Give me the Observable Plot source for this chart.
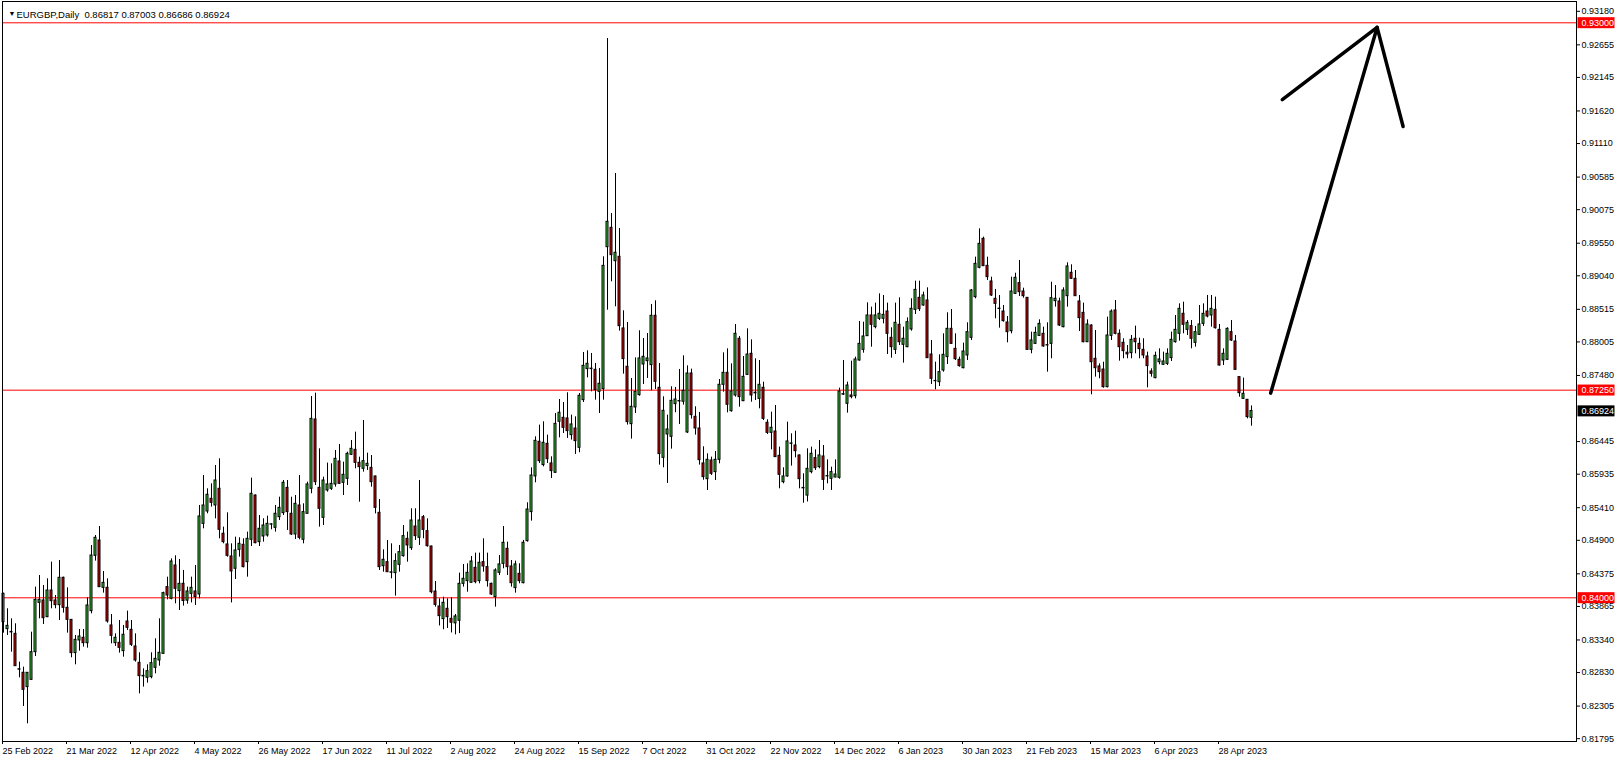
<!DOCTYPE html>
<html><head><meta charset="utf-8">
<script src="https://cdn.jsdelivr.net/npm/d3@7"></script>
<script src="https://cdn.jsdelivr.net/npm/@observablehq/plot@0.6"></script>
<style>
html,body{margin:0;padding:0;background:#fff;}
#chart{position:relative;width:1620px;height:762px;overflow:hidden;}
</style></head><body><div id="chart"></div>
<script>
// EURGBP Daily, one bar per trading day (bar index 0 = 25 Feb 2022)
const openP=[
0.83619,0.83509,0.83466,0.83436,0.82882,0.82826,0.82602,0.82716,0.83149,0.83921,
0.83958,0.83697,0.84114,0.83958,0.83885,0.84313,0.83843,0.83655,0.83134,0.83332,
0.83374,0.83290,0.83791,0.84657,0.84897,0.84156,0.84156,0.83567,0.83290,0.83295,
0.83165,0.83629,0.83499,0.83238,0.82982,0.82778,0.82748,0.82758,0.82904,0.83019,
0.83123,0.84167,0.83984,0.84506,0.84104,0.84219,0.83955,0.84062,0.84099,0.84052,
0.85158,0.85351,0.85549,0.85445,0.85706,0.85002,0.84835,0.84647,0.84454,0.84751,
0.84829,0.84558,0.84908,0.85601,0.84871,0.84960,0.84975,0.85145,0.85095,0.85262,
0.85325,0.85721,0.85315,0.84991,0.85445,0.84908,0.85315,0.85706,0.86791,0.85721,
0.85252,0.85680,0.85706,0.85774,0.86134,0.85800,0.85862,0.86238,0.86316,0.86113,
0.86019,0.86061,0.86034,0.85899,0.85330,0.84495,0.84558,0.84398,0.84386,0.84516,
0.84652,0.84923,0.84777,0.85116,0.84939,0.85262,0.85043,0.84803,0.84098,0.83864,
0.83666,0.83828,0.83671,0.83600,0.83640,0.84219,0.84261,0.84235,0.84469,0.84261,
0.84558,0.84480,0.84219,0.84010,0.84391,0.84532,0.84767,0.84490,0.84151,0.84375,
0.84229,0.84887,0.85341,0.85900,0.86442,0.86077,0.86410,0.86103,0.85957,0.86755,
0.86817,0.86807,0.86546,0.86650,0.86348,0.87094,0.87579,0.87587,0.87569,0.87224,
0.87266,0.89488,0.89791,0.89269,0.89337,0.88216,0.87616,0.86718,0.86979,0.87172,
0.87652,0.87704,0.87642,0.88414,0.87287,0.86191,0.86557,0.86520,0.87031,0.87074,
0.87068,0.86588,0.87511,0.86833,0.86650,0.86103,0.85857,0.86149,0.85967,0.86160,
0.87334,0.87521,0.86921,0.87167,0.88054,0.87078,0.87490,0.87819,0.87210,0.87114,
0.87287,0.86739,0.86582,0.86603,0.86222,0.85810,0.85899,0.86410,0.86384,0.86228,
0.85720,0.85600,0.85967,0.86186,0.86045,0.86212,0.85905,0.85862,0.85883,0.85878,
0.87180,0.87036,0.87167,0.87156,0.87714,0.87881,0.88095,0.88419,0.88236,0.88367,
0.88367,0.88481,0.88069,0.87881,0.88273,0.87960,0.87923,0.88200,0.88507,0.88695,
0.88575,0.88654,0.87808,0.87395,0.87375,0.87558,0.87767,0.88210,0.87897,0.87725,
0.87594,0.87793,0.88069,0.88706,0.89165,0.89619,0.89196,0.88951,0.88680,0.88526,
0.88481,0.88309,0.88173,0.88758,0.88925,0.88794,0.88695,0.87881,0.87975,0.88100,
0.88132,0.87955,0.87975,0.88643,0.88638,0.88236,0.88721,0.89087,0.88993,0.88638,
0.88460,0.88001,0.88262,0.87741,0.87621,0.87573,0.87297,0.88100,0.88497,0.88132,
0.87991,0.87836,0.87829,0.88054,0.87975,0.87881,0.87777,0.87542,0.87438,0.87688,
0.87647,0.87662,0.87751,0.88001,0.88132,0.88445,0.88194,0.88252,0.87991,0.88116,
0.88288,0.88481,0.88419,0.88507,0.88194,0.87714,0.87725,0.88158,0.88012,0.87454,
0.87114,0.87099,0.86817];
const highP=[
0.84073,0.83828,0.83671,0.83593,0.82993,0.82915,0.82830,0.83462,0.84167,0.84349,
0.84193,0.84297,0.84558,0.84036,0.84584,0.84323,0.84156,0.83660,0.83410,0.83504,
0.83504,0.84000,0.84819,0.84975,0.85116,0.84412,0.84297,0.83739,0.83436,0.83645,
0.83567,0.83791,0.83645,0.83436,0.83139,0.82888,0.82951,0.83139,0.83358,0.83671,
0.84088,0.84323,0.84610,0.84657,0.84600,0.84428,0.84167,0.84323,0.84506,0.85445,
0.85914,0.85706,0.85784,0.86071,0.86175,0.85106,0.85330,0.84845,0.84949,0.84939,
0.84923,0.85028,0.85873,0.85610,0.85288,0.85236,0.85278,0.85158,0.85445,0.85575,
0.85836,0.85836,0.85575,0.85601,0.85914,0.85471,0.85810,0.87151,0.87203,0.86332,
0.85888,0.86108,0.86097,0.86306,0.86400,0.86123,0.86280,0.86462,0.86593,0.86201,
0.86775,0.86264,0.86227,0.85905,0.85539,0.84751,0.84897,0.84845,0.84689,0.84819,
0.85132,0.85028,0.85393,0.85393,0.85836,0.85288,0.85236,0.84808,0.84255,0.83984,
0.84010,0.83984,0.84000,0.83739,0.84386,0.84522,0.84532,0.84647,0.84699,0.84699,
0.84923,0.84699,0.84229,0.84454,0.84662,0.85116,0.84871,0.84584,0.84574,0.84532,
0.84897,0.85487,0.86034,0.86520,0.86703,0.86755,0.86546,0.86207,0.86885,0.87104,
0.87057,0.87209,0.86859,0.86833,0.87198,0.87840,0.87866,0.87824,0.87668,0.87590,
0.89337,0.92754,0.90015,0.90641,0.89781,0.88492,0.88309,0.87433,0.87756,0.88179,
0.88059,0.88137,0.88591,0.88649,0.87668,0.87146,0.86859,0.87303,0.87292,0.87574,
0.87788,0.87631,0.87579,0.86990,0.86901,0.86364,0.86254,0.86202,0.86290,0.87417,
0.87834,0.87897,0.87662,0.88278,0.88090,0.87777,0.88210,0.88038,0.87741,0.87714,
0.87375,0.86786,0.86906,0.87010,0.86358,0.86035,0.86749,0.86567,0.86608,0.86235,
0.85941,0.86332,0.86358,0.86316,0.86462,0.86384,0.86160,0.86045,0.86160,0.87281,
0.87714,0.87375,0.87704,0.87767,0.88325,0.88314,0.88617,0.88549,0.88612,0.88758,
0.88732,0.88612,0.88226,0.88612,0.88695,0.88236,0.88382,0.88680,0.88956,0.88956,
0.88784,0.88852,0.88028,0.87688,0.87803,0.88132,0.88461,0.88513,0.88132,0.87767,
0.87986,0.88304,0.88826,0.89332,0.89775,0.89645,0.89332,0.89019,0.88826,0.88732,
0.88575,0.88403,0.89019,0.89081,0.89280,0.88846,0.88700,0.88158,0.88236,0.88351,
0.88236,0.88304,0.88940,0.88888,0.88690,0.88852,0.89243,0.89212,0.89123,0.88732,
0.88612,0.88351,0.88273,0.88184,0.87662,0.87688,0.88393,0.88507,0.88653,0.88194,
0.88054,0.87949,0.88106,0.88252,0.88064,0.88054,0.87845,0.87584,0.87845,0.87897,
0.87845,0.87897,0.88158,0.88419,0.88601,0.88627,0.88340,0.88340,0.88247,0.88575,
0.88601,0.88732,0.88732,0.88706,0.88278,0.87897,0.88226,0.88340,0.88106,0.87464,
0.87438,0.87104,0.87003];
const lowP=[
0.83447,0.83410,0.83149,0.82925,0.82748,0.82299,0.82028,0.82710,0.83081,0.83671,
0.83582,0.83690,0.83828,0.83828,0.83645,0.83760,0.83447,0.83061,0.82951,0.83165,
0.83228,0.83212,0.83749,0.84574,0.84160,0.84073,0.83603,0.83280,0.83238,0.83134,
0.83071,0.83488,0.83238,0.82993,0.82497,0.82602,0.82664,0.82732,0.82810,0.82930,
0.83118,0.83968,0.83968,0.83906,0.83801,0.83870,0.83900,0.83920,0.83880,0.83984,
0.85080,0.85315,0.85419,0.85236,0.84923,0.84845,0.84636,0.83920,0.84287,0.84636,
0.84469,0.84323,0.84803,0.84845,0.84803,0.84871,0.84949,0.85064,0.85028,0.85210,
0.85288,0.85054,0.84975,0.84913,0.84908,0.84845,0.85310,0.85628,0.85758,0.85106,
0.85132,0.85654,0.85680,0.85732,0.85774,0.85601,0.85758,0.86228,0.86019,0.85497,
0.85967,0.85993,0.85732,0.85314,0.84428,0.84401,0.84395,0.84297,0.84026,0.84401,
0.84636,0.84558,0.84741,0.84897,0.84819,0.84923,0.84793,0.84062,0.83854,0.83560,
0.83500,0.83520,0.83450,0.83420,0.83440,0.84167,0.84088,0.84230,0.84219,0.84219,
0.84401,0.84167,0.84036,0.83854,0.84349,0.84454,0.84349,0.84167,0.84073,0.84219,
0.84219,0.84871,0.85200,0.85800,0.86103,0.86050,0.86103,0.85868,0.85946,0.86504,
0.86572,0.86494,0.86468,0.86244,0.86270,0.87057,0.87443,0.87224,0.87094,0.86885,
0.87094,0.88502,0.88946,0.88555,0.88174,0.87501,0.86703,0.86484,0.86885,0.87156,
0.87339,0.87433,0.87240,0.87261,0.86077,0.86035,0.85790,0.86327,0.86896,0.86713,
0.87016,0.86572,0.86797,0.86546,0.86077,0.85840,0.85680,0.85915,0.85836,0.86097,
0.87219,0.86895,0.86906,0.87141,0.86984,0.87070,0.87480,0.87062,0.87088,0.86958,
0.86775,0.86556,0.86316,0.86195,0.85706,0.85784,0.85889,0.86061,0.86191,0.85706,
0.85480,0.85500,0.85941,0.85993,0.86019,0.85680,0.85784,0.85680,0.85878,0.85857,
0.87167,0.86890,0.87114,0.87114,0.87704,0.87829,0.88090,0.87923,0.88210,0.88340,
0.88288,0.87808,0.87751,0.87808,0.87949,0.87673,0.87915,0.88173,0.88434,0.88481,
0.88565,0.87745,0.87339,0.87255,0.87307,0.87532,0.87652,0.87965,0.87714,0.87610,
0.87584,0.87714,0.88028,0.88680,0.89149,0.89185,0.88967,0.88716,0.88367,0.88221,
0.88314,0.87991,0.88132,0.88747,0.88716,0.88690,0.87871,0.87819,0.87965,0.88090,
0.87923,0.87532,0.87741,0.88549,0.88247,0.88226,0.88549,0.88982,0.88716,0.88168,
0.87991,0.87995,0.87177,0.87454,0.87428,0.87281,0.87286,0.88027,0.88116,0.87704,
0.87741,0.87741,0.87741,0.87819,0.87741,0.87741,0.87287,0.87454,0.87428,0.87647,
0.87636,0.87636,0.87699,0.87986,0.88017,0.88132,0.88106,0.87897,0.87923,0.88106,
0.88247,0.88382,0.88236,0.88205,0.87626,0.87636,0.87714,0.88012,0.87558,0.87141,
0.87104,0.86801,0.86686];
const closeP=[
0.84062,0.83561,0.83458,0.82930,0.82875,0.82560,0.82826,0.83149,0.83968,0.83968,
0.83681,0.84114,0.83947,0.83885,0.84313,0.83843,0.83655,0.83134,0.83342,0.83394,
0.83290,0.83880,0.84662,0.84939,0.84167,0.84234,0.83629,0.83405,0.83374,0.83217,
0.83421,0.83530,0.83264,0.83019,0.82774,0.82770,0.82852,0.82977,0.83045,0.83139,
0.84073,0.84036,0.84568,0.84141,0.84219,0.83950,0.84099,0.84156,0.84010,0.85273,
0.85445,0.85612,0.85487,0.85836,0.85064,0.84871,0.84657,0.84412,0.84741,0.84845,
0.84480,0.84923,0.85628,0.84855,0.85080,0.85132,0.85158,0.85150,0.85315,0.85408,
0.85800,0.85341,0.84991,0.85471,0.84939,0.85341,0.85774,0.86801,0.85810,0.85393,
0.85836,0.85774,0.85784,0.86175,0.85784,0.85925,0.86254,0.86332,0.86113,0.86045,
0.86139,0.86097,0.85810,0.85408,0.84480,0.84595,0.84401,0.84392,0.84574,0.84715,
0.84965,0.84819,0.85210,0.84965,0.85210,0.85064,0.84808,0.84088,0.83890,0.83713,
0.83922,0.83697,0.83610,0.83708,0.84219,0.84297,0.84391,0.84568,0.84245,0.84548,
0.84490,0.84261,0.84052,0.84428,0.84522,0.84861,0.84480,0.84229,0.84522,0.84261,
0.84861,0.85382,0.85914,0.86457,0.86139,0.86426,0.86170,0.85983,0.86723,0.86896,
0.86661,0.86609,0.86713,0.86452,0.87162,0.87631,0.87663,0.87580,0.87250,0.87350,
0.89196,0.89885,0.89363,0.89400,0.88252,0.87736,0.86750,0.86990,0.87224,0.87746,
0.87772,0.87746,0.88414,0.87381,0.86249,0.86927,0.86635,0.87083,0.87104,0.87080,
0.87240,0.87511,0.86859,0.86650,0.86155,0.85889,0.86160,0.85941,0.86160,0.87334,
0.87521,0.87021,0.87229,0.88132,0.87141,0.87459,0.87808,0.87167,0.87200,0.87334,
0.86801,0.86582,0.86661,0.86202,0.85925,0.85899,0.86447,0.86416,0.86295,0.85857,
0.85713,0.86019,0.86254,0.86029,0.86228,0.85847,0.85900,0.85967,0.85930,0.87229,
0.87188,0.87323,0.87141,0.87730,0.87975,0.88090,0.88419,0.88273,0.88419,0.88445,
0.88429,0.88132,0.87923,0.88304,0.88001,0.88054,0.88314,0.88523,0.88820,0.88518,
0.88732,0.87751,0.87428,0.87390,0.87532,0.87803,0.88210,0.87975,0.87735,0.87626,
0.87855,0.88158,0.88810,0.89227,0.89540,0.89191,0.89019,0.88732,0.88601,0.88520,
0.88330,0.88158,0.88794,0.89008,0.88784,0.88721,0.87881,0.88028,0.88147,0.88288,
0.87934,0.87950,0.88690,0.88680,0.88262,0.88810,0.89186,0.88993,0.88721,0.88377,
0.88001,0.88278,0.87688,0.87594,0.87532,0.87297,0.88106,0.88481,0.88132,0.87923,
0.87861,0.87810,0.88038,0.88001,0.87892,0.87793,0.87626,0.87506,0.87787,0.87730,
0.87699,0.87819,0.88038,0.88194,0.88523,0.88273,0.88304,0.88054,0.88158,0.88278,
0.88445,0.88403,0.88523,0.88220,0.87636,0.87819,0.88210,0.88027,0.87568,0.87203,
0.87193,0.86828,0.86924];

const dateTickIndex=[0,16,32,48,64,80,96,112,128,144,160,176,192,208,224,240,256,272,288,304];
const dateTickLabels=["25 Feb 2022","21 Mar 2022","12 Apr 2022","4 May 2022","26 May 2022","17 Jun 2022","11 Jul 2022","2 Aug 2022","24 Aug 2022","15 Sep 2022","7 Oct 2022","31 Oct 2022","22 Nov 2022","14 Dec 2022","6 Jan 2023","30 Jan 2023","21 Feb 2023","15 Mar 2023","6 Apr 2023","28 Apr 2023"];
const priceTicks=[0.93180,0.92655,0.92145,0.91620,0.91110,0.90585,0.90075,0.89550,0.89040,0.88515,0.88005,0.87480,0.86445,0.85935,0.85410,0.84900,0.84375,0.83865,0.83340,0.82830,0.82305,0.81795];
const levelPrices=[0.93000,0.87250,0.84000];
const lastPrice=[0.86924];
const arrowShaft=[{i:316.8,p:0.87204},{i:343.4,p:0.92928}];
const arrowHead=[{i:319.7,p:0.91796},{i:343.4,p:0.92928},{i:349.9,p:0.91377}];
const symbolTitle="EURGBP,Daily  0.86817 0.87003 0.86686 0.86924";

const bars=openP.map((o,i)=>({i,o,h:highP[i],l:lowP[i],c:closeP[i]}));
const FONT="'Liberation Sans', Arial, sans-serif";

const plot=Plot.plot({
  width:1620,height:762,
  marginLeft:2,marginRight:44,marginTop:1,marginBottom:21,
  style:{fontFamily:FONT,fontSize:"9px",background:"#fff",color:"#000",overflow:"visible"},
  x:{domain:[-0.25,393.25]},
  y:{domain:[0.817508,0.933334]},
  color:{type:"identity"},
  marks:[
    Plot.ruleY(levelPrices,{y:d=>d,stroke:"#ff0000",strokeWidth:1}),
    Plot.ruleX(bars,{x:"i",y1:"l",y2:"h",stroke:"#000",strokeWidth:1}),
    Plot.rect(bars,{x1:d=>d.i-0.25,x2:d=>d.i+0.25,
      y1:d=>Math.min(d.o,d.c),y2:d=>Math.max(d.o,d.c),
      fill:d=>d.c>=d.o?"#32cd32":"#e00000",stroke:"#000",strokeWidth:1}),
    Plot.line(arrowShaft,{x:"i",y:"p",stroke:"#000",strokeWidth:3.5,strokeLinecap:"round"}),
    Plot.line(arrowHead,{x:"i",y:"p",stroke:"#000",strokeWidth:3.5,strokeLinecap:"round",strokeLinejoin:"round"}),
    Plot.frame({stroke:"#000",strokeWidth:1}),
    Plot.axisX(dateTickIndex,{anchor:"bottom",tickSize:3,tickPadding:3,
      tickFormat:d=>dateTickLabels[dateTickIndex.indexOf(d)],textAnchor:"start",dx:-1,fontSize:9,label:null}),
    Plot.axisY(priceTicks,{anchor:"right",tickSize:3,tickPadding:2,tickFormat:d=>d.toFixed(5),fontSize:9,label:null}),
    Plot.text(levelPrices,{y:d=>d,frameAnchor:"right",dx:5,textAnchor:"start",text:d=>d.toFixed(5),fill:"#fff",fontSize:9,className:"lvl-red"}),
    Plot.text(lastPrice,{y:d=>d,frameAnchor:"right",dx:5,textAnchor:"start",text:d=>d.toFixed(5),fill:"#fff",fontSize:9,className:"lvl-black"}),
    Plot.text(["▼"],{text:d=>d,frameAnchor:"top-left",dx:6,dy:10,fontSize:7,textAnchor:"start"}),
    Plot.text([symbolTitle],{text:d=>d,frameAnchor:"top-left",dx:14,dy:10,fontSize:9.5,textAnchor:"start"})
  ]
});
document.getElementById("chart").appendChild(plot);

// coloured boxes behind the price labels on the right axis
function boxes(cls,color){
  plot.querySelectorAll("."+cls+" text").forEach(t=>{
    const b=t.getBBox();
    const r=document.createElementNS("http://www.w3.org/2000/svg","rect");
    const tr=t.getAttribute("transform");
    if(tr) r.setAttribute("transform",tr);
    r.setAttribute("x",b.x-4);r.setAttribute("width",37);
    r.setAttribute("y",b.y+b.height/2-5.5);r.setAttribute("height",11);
    r.setAttribute("fill",color);
    t.parentNode.insertBefore(r,t);
  });
}
boxes("lvl-red","#ff0000");
boxes("lvl-black","#000000");
</script></body></html>
